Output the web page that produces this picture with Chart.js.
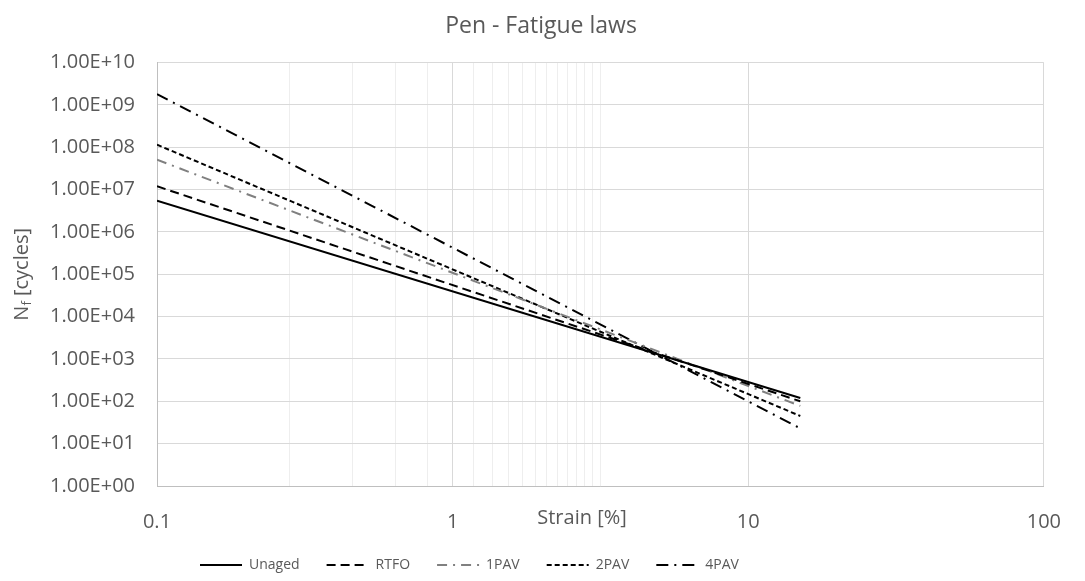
<!DOCTYPE html>
<html>
<head>
<meta charset="utf-8">
<script src="https://cdn.jsdelivr.net/npm/chart.js@4/dist/chart.umd.min.js"></script>
<style>
  html, body { margin: 0; padding: 0; background: #ffffff; }
  #wrap { width: 1085px; height: 581px; }
</style>
</head>
<body>
<div id="wrap"><canvas id="fatigueChart" width="1085" height="581"></canvas></div>
<script>
// Fatigue laws: straight lines in log-log, strain 0.1 % .. 15 %
const strainPoints = [0.1, 15];
const unagedCycles = [5.5e6, 1.2e2];
const rtfoCycles = [1.2e7, 1.0e2];
const pav1Cycles = [5.1e7, 7.8e1];
const pav2Cycles = [1.15e8, 4.5e1];
const pav4Cycles = [1.8e9, 2.3e1];

// Axis ticks
const xMajorTicks = [0.1, 1, 10, 100];
const xMajorLabels = ['0.1', '1', '10', '100'];
const xMinorTicks = [0.28, 0.46, 0.64, 0.82, 1.18, 1.36, 1.54, 1.72, 1.9, 2.08, 2.26, 2.44, 2.62, 2.8, 2.98, 3.16];
const yTickValues = [1, 1e1, 1e2, 1e3, 1e4, 1e5, 1e6, 1e7, 1e8, 1e9, 1e10];
const yTickLabels = ['1.00E+00', '1.00E+01', '1.00E+02', '1.00E+03', '1.00E+04', '1.00E+05',
                     '1.00E+06', '1.00E+07', '1.00E+08', '1.00E+09', '1.00E+10'];

const FONT = "'Open Sans', 'Liberation Sans', sans-serif";
const TEXT_COLOR = '#595959';

function toPoints(ys) {
    return strainPoints.map((x, i) => ({ x: x, y: ys[i] }));
}

function makeSeries(label, ys, color, dash) {
    return {
        label: label,
        data: toPoints(ys),
        borderColor: color,
        backgroundColor: color,
        borderWidth: 2,
        borderDash: dash,
        pointRadius: 0,
        pointStyle: 'line',
        tension: 0,
        fill: false
    };
}

// axis titles drawn by hand: y title needs the subscript f,
// x title sits on the tick label row, left of centre
const axisTitlesPlugin = {
    id: 'axisTitles',
    afterDraw(chart) {
        const ctx = chart.ctx;
        const area = chart.chartArea;
        ctx.save();
        ctx.fillStyle = TEXT_COLOR;
        ctx.textBaseline = 'middle';

        ctx.font = '20px ' + FONT;
        ctx.textAlign = 'center';
        ctx.fillText('Strain [%]', 582, 518);

        ctx.translate(22, (area.top + area.bottom) / 2);
        ctx.rotate(-Math.PI / 2);
        ctx.textAlign = 'left';
        const big = '20px ' + FONT;
        const small = '13px ' + FONT;
        ctx.font = big;
        const wN = ctx.measureText('N').width;
        const wRest = ctx.measureText(' [cycles]').width;
        ctx.font = small;
        const wf = ctx.measureText('f').width;
        let x = -(wN + wf + wRest) / 2;
        ctx.font = big;
        ctx.fillText('N', x, 0);
        x += wN;
        ctx.font = small;
        ctx.fillText('f', x, 5);
        x += wf;
        ctx.font = big;
        ctx.fillText(' [cycles]', x, 0);
        ctx.restore();
    }
};

// move the legend row to where it sits in the picture
const legendPlacePlugin = {
    id: 'legendPlace',
    afterLayout(chart) {
        const lg = chart.legend;
        const pad = lg.options.labels.padding;
        lg.left = 200 - pad;
        lg.right = chart.width;
        lg.top += 1;
        lg.bottom += 1;
    }
};

// legend samples: take dash and width from the line, not from the (hidden) points
function legendLabels(chart) {
    const items = Chart.defaults.plugins.legend.labels.generateLabels(chart);
    items.forEach((item) => {
        const ds = chart.data.datasets[item.datasetIndex];
        item.lineDash = ds.borderDash;
        item.lineWidth = ds.borderWidth;
        item.strokeStyle = ds.borderColor;
        item.pointStyle = 'line';
    });
    return items;
}

const ctx = document.getElementById('fatigueChart').getContext('2d');
new Chart(ctx, {
    type: 'line',
    data: {
        datasets: [
            makeSeries('Unaged', unagedCycles, '#000000', []),
            makeSeries('RTFO', rtfoCycles, '#000000', [9, 5]),
            makeSeries('1PAV', pav1Cycles, '#808080', [10, 6, 2, 6]),
            makeSeries('2PAV', pav2Cycles, '#000000', [5, 3]),
            makeSeries('4PAV', pav4Cycles, '#000000', [12, 6, 2, 6])
        ]
    },
    options: {
        responsive: false,
        animation: false,
        layout: { padding: { left: 0, right: 3, top: 0, bottom: 0 } },
        plugins: {
            title: {
                display: true,
                text: 'Pen - Fatigue laws',
                color: TEXT_COLOR,
                font: { family: FONT, size: 23, weight: 'normal' },
                padding: { top: 13, bottom: 22 }
            },
            legend: {
                display: true,
                position: 'bottom',
                align: 'start',
                labels: {
                    color: TEXT_COLOR,
                    font: { family: FONT, size: 14 },
                    usePointStyle: true,
                    pointStyle: 'line',
                    pointStyleWidth: 42,
                    boxWidth: 42,
                    padding: 27,
                    generateLabels: legendLabels
                }
            },
            tooltip: { enabled: false }
        },
        scales: {
            x: {
                type: 'logarithmic',
                min: 0.1,
                max: 100,
                afterBuildTicks: (scale) => {
                    scale.ticks = xMajorTicks.concat(xMinorTicks)
                        .sort((a, b) => a - b)
                        .map(v => ({ value: v, major: xMajorTicks.includes(v) }));
                },
                afterFit: (scale) => { scale.height = 44; },
                ticks: {
                    autoSkip: false,
                    maxRotation: 0,
                    color: TEXT_COLOR,
                    font: { family: FONT, size: 20 },
                    padding: 24,
                    callback: function(value) {
                        const i = xMajorTicks.indexOf(value);
                        return i >= 0 ? xMajorLabels[i] : '';
                    }
                },
                grid: {
                    drawTicks: false,
                    color: (c) => (c.tick && xMajorTicks.includes(c.tick.value)) ? '#d9d9d9' : '#eeeeee',
                    lineWidth: 1
                },
                border: { display: true, color: '#bfbfbf', width: 1 },
                title: { display: false }
            },
            y: {
                type: 'logarithmic',
                min: 1,
                max: 1e10,
                afterBuildTicks: (scale) => {
                    scale.ticks = yTickValues.map(v => ({ value: v }));
                },
                afterFit: (scale) => { scale.width = 157; },
                ticks: {
                    autoSkip: false,
                    color: TEXT_COLOR,
                    font: { family: FONT, size: 20 },
                    padding: 22,
                    callback: function(value, index) {
                        return yTickLabels[index];
                    }
                },
                grid: { drawTicks: false, color: '#d9d9d9', lineWidth: 1 },
                border: { display: true, color: '#bfbfbf', width: 1 }
            }
        }
    },
    plugins: [axisTitlesPlugin, legendPlacePlugin]
});
</script>
</body>
</html>
